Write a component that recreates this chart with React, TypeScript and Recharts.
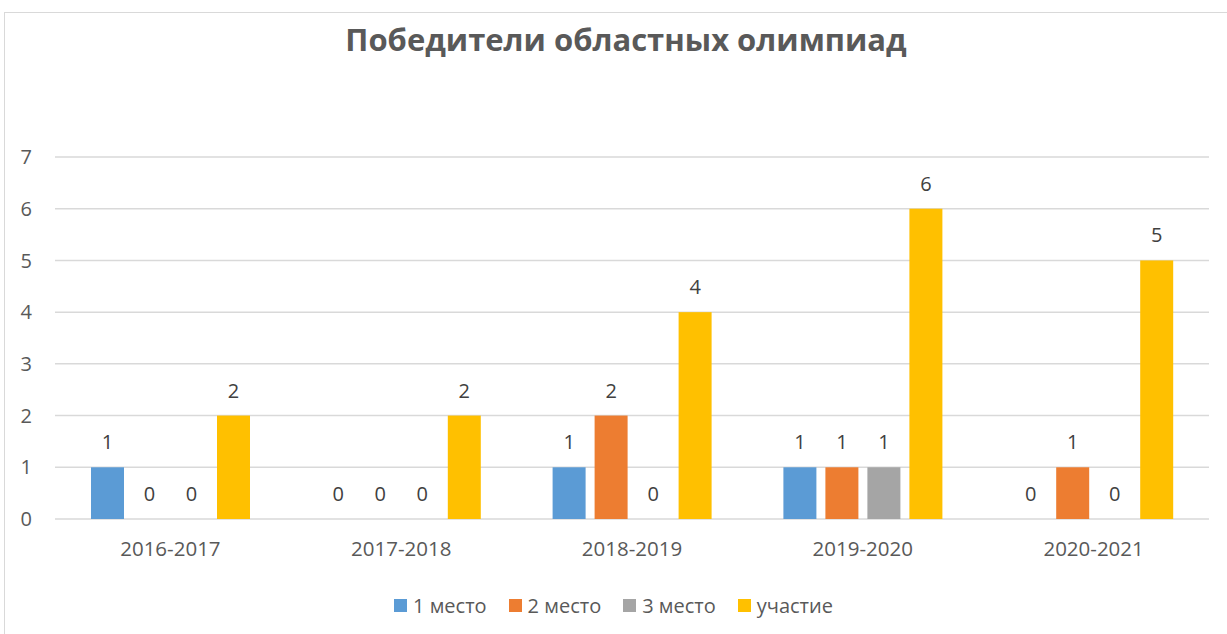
import { BarChart, Bar, XAxis, YAxis, CartesianGrid, Legend } from 'recharts'

const years = ['2016-2017', '2017-2018', '2018-2019', '2019-2020', '2020-2021']
const first = [1, 0, 1, 1, 0]
const second = [0, 0, 2, 1, 1]
const third = [0, 0, 0, 1, 0]
const participation = [2, 2, 4, 6, 5]

const series = [
  { key: 'first', name: '1 место', color: '#5B9BD5' },
  { key: 'second', name: '2 место', color: '#ED7D31' },
  { key: 'third', name: '3 место', color: '#A5A5A5' },
  { key: 'participation', name: 'участие', color: '#FFC000' },
]

const data = years.map((year, i) => ({
  year,
  first: first[i],
  second: second[i],
  third: third[i],
  participation: participation[i],
}))

const FONT = '"Open Sans", "Liberation Sans", sans-serif'
const TEXT = '#595959'

function LegendContent(props: any) {
  const payload = props.payload || []
  return (
    <div style={{ display: 'flex', justifyContent: 'center', fontFamily: FONT, fontSize: 20, color: TEXT }}>
      {payload.map((p: any) => (
        <div key={p.value} style={{ display: 'flex', alignItems: 'center', margin: '0 11px' }}>
          <span style={{ width: 13, height: 13, background: p.color, display: 'inline-block', marginRight: 6 }} />
          <span>{p.value}</span>
        </div>
      ))}
    </div>
  )
}

// bar + value label; zero values still get a label sitting on the axis
function makeShape(dataKey: string, color: string) {
  return (props: any) => {
    const { x, y, width, height, payload } = props
    const v = payload ? payload[dataKey] : 0
    const base = y + height
    const top = v ? y : base
    return (
      <g>
        {v ? <rect x={x} y={y} width={width} height={height} fill={color} /> : null}
        <text
          x={x + width / 2}
          y={top - 18}
          textAnchor="middle"
          fill="#404040"
          fontSize={20}
          fontFamily={FONT}
        >
          {v}
        </text>
      </g>
    )
  }
}

export default function App() {
  return (
    <div style={{ position: 'absolute', left: 0, top: 0, width: 1227, height: 634, background: '#fff', overflow: 'hidden' }}>
      <div style={{ position: 'absolute', left: 4, top: 12, width: 1240, height: 700, borderTop: '1px solid #d9d9d9', borderLeft: '1px solid #d9d9d9' }} />
      <div
        style={{
          position: 'absolute',
          left: 0,
          width: 1252,
          top: 18,
          textAlign: 'center',
          fontFamily: FONT,
          fontWeight: 700,
          fontSize: 31,
          color: TEXT,
        }}
      >
        Победители областных олимпиад
      </div>
      <BarChart
        width={1227}
        height={634}
        data={data}
        margin={{ top: 157, right: 18, bottom: 10, left: 0 }}
        barSize={33}
        barGap={9}
        style={{ fontFamily: FONT }}
      >
        <CartesianGrid vertical={false} stroke="#d9d9d9" strokeWidth={1.5} />
        <XAxis
          dataKey="year"
          height={40}
          axisLine={false}
          tickLine={false}
          tickMargin={16}
          tick={{ fill: TEXT, fontSize: 20.5 }}
        />
        <YAxis
          width={55}
          domain={[0, 7]}
          ticks={[0, 1, 2, 3, 4, 5, 6, 7]}
          axisLine={false}
          tickLine={false}
          tickMargin={17}
          tick={{ fill: TEXT, fontSize: 20 }}
        />
        <Legend
          verticalAlign="bottom"
          height={65}
          content={<LegendContent />}
          wrapperStyle={{ top: 592, left: 0, width: 1227 }}
        />
        {series.map((s) => (
          <Bar
            key={s.key}
            dataKey={s.key}
            name={s.name}
            fill={s.color}
            minPointSize={1}
            shape={makeShape(s.key, s.color)}
            isAnimationActive={false}
          />
        ))}
      </BarChart>
    </div>
  )
}
